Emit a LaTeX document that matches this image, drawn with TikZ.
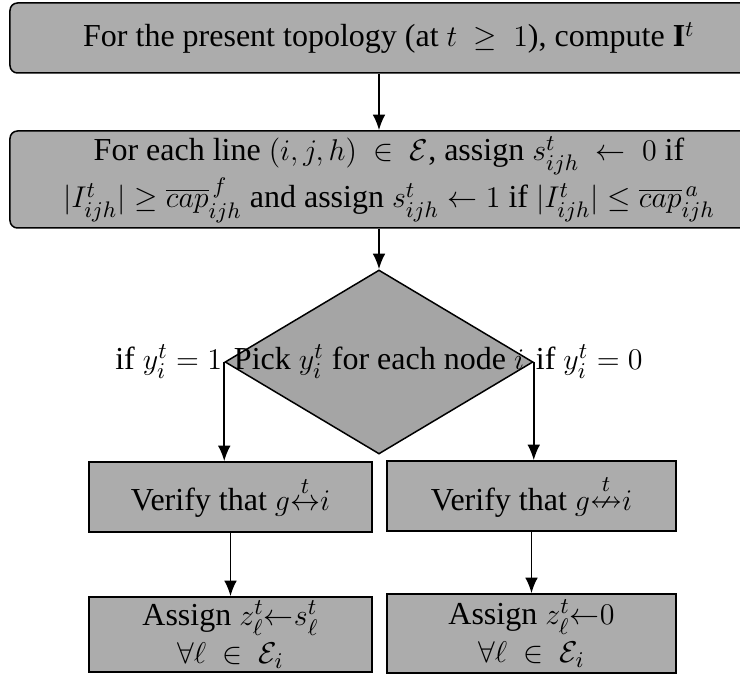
\documentclass[tikz,border=0pt]{standalone}
\usepackage{amsmath,amssymb}
\usepackage{fontspec}
\setmainfont{Liberation Serif}
\usepackage{tikz}
\usetikzlibrary{shapes.geometric,arrows.meta}
\definecolor{boxgray}{RGB}{172,172,172}
\definecolor{decgray}{RGB}{165,165,165}

\begin{document}
\begin{tikzpicture}[x=0.4pt, y=-0.4pt,
      topbox/.style={draw, rounded corners=3pt, fill=boxgray, align=center,
                     inner sep=0pt, line width=0.6pt, font=\fontsize{12.8}{15.4}\selectfont},
      plainbox/.style={draw, fill=boxgray, align=center, inner sep=0pt,
                       line width=0.6pt, font=\fontsize{12.8}{15.4}\selectfont},
      decision/.style={draw, diamond, fill=decgray, inner sep=0pt, line width=0.6pt},
      txt/.style={font=\fontsize{12.8}{15.4}\selectfont, inner sep=1pt},
      >={Latex[length=2.2mm, width=1.8mm]}, line width=0.75pt]
    \useasboundingbox (0,0) rectangle (740,684);
    \node[topbox, minimum width=303.2pt, minimum height=28pt] (top) at (389,38)
      {For the present topology (at $t\ \geq\ 1$), compute $\mathbf{I}^t$};
    \node[topbox, minimum width=303.2pt, minimum height=38.8pt] (lines) at (389,179.5)
      {For each line $(i,j,h)\ \in\ \mathcal{E}$, assign $s^t_{ijh}\ \leftarrow\ 0$ if\\
       $|I^t_{ijh}|\geq\overline{cap}^{\,f}_{ijh}$ and assign $s^t_{ijh}\leftarrow 1$ if $|I^t_{ijh}|\leq\overline{cap}^{\,a}_{ijh}$};
    \node[decision, minimum width=123.2pt, minimum height=73.6pt] (dec) at (379,362) {};
    \node[txt] (dectext) at (dec.center) {Pick $y^t_i$ for each node $i$};
    \node[txt, anchor=east, inner sep=0.5pt] (iffone) at (dec.west) {if $y^t_i=1$};
    \node[txt, anchor=west, inner sep=0.5pt] (iffzero) at (dec.east) {if $y^t_i=0$};
    \node[plainbox, minimum width=113.2pt, minimum height=28pt] (verl) at (230.5,497)
      {Verify that $g{\overset{t}{\leftrightarrow}}i$};
    \node[plainbox, minimum width=115.6pt, minimum height=28pt] (verr) at (531.5,496)
      {Verify that $g{\overset{t}{\nleftrightarrow}}i$};
    \node[plainbox, minimum width=113.2pt, minimum height=30pt] (asgl) at (230.5,634.5)
      {Assign $z^t_\ell{\leftarrow}s^t_\ell$\\ $\forall\ell\ \in\ \mathcal{E}_i$};
    \node[plainbox, minimum width=115.6pt, minimum height=31.6pt] (asgr) at (531.5,633.5)
      {Assign $z^t_\ell{\leftarrow}0$\\ $\forall\ell\ \in\ \mathcal{E}_i$};
    \draw[->] (top.south -| dec) -- (lines.north -| dec);
    \draw[->] (lines.south -| dec) -- (dec.north);
    \draw[->] (dec.west) -- (dec.west |- verl.north);
    \draw[->] (dec.east) -- (dec.east |- verr.north);
    \draw[->] (verl) -- (asgl);
    \draw[->] (verr) -- (asgr);
  \end{tikzpicture}
\end{document}
